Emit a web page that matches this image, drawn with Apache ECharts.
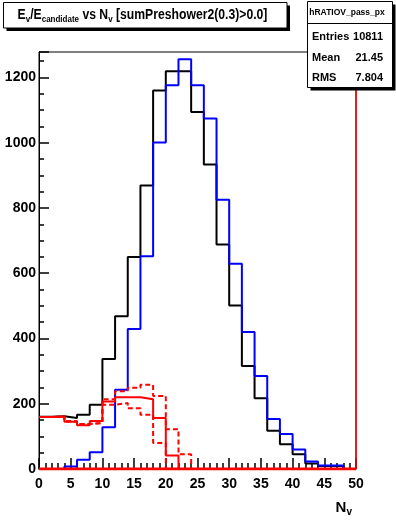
<!DOCTYPE html>
<html>
<head>
<meta charset="utf-8">
<script src="https://cdn.jsdelivr.net/npm/echarts@6/dist/echarts.min.js"></script>
<style>
html,body{margin:0;padding:0;background:#fff;}
#c{width:396px;height:522px;}
</style>
</head>
<body>
<div id="c"></div>
<script>
// ---- data (bins of width 2 from 0 to 50) ----
const xMin = 0, xMax = 50, binWidth = 2;
const xTicks = [0, 5, 10, 15, 20, 25, 30, 35, 40, 45, 50];
const yTicks = [0, 200, 400, 600, 800, 1000, 1200];
const blackHist = [160, 162, 156, 166, 197, 337, 468, 650, 869, 1160, 1219, 1219, 1094, 933, 688, 501, 316, 217, 117, 76, 45, 17, 9, 9, 0];
const blueHist  = [0, 0, 8, 28, 51, 128, 243, 429, 652, 1001, 1176, 1256, 1176, 1074, 825, 629, 420, 285, 153, 107, 60, 23, 11, 11, 0];
const redSolid  = [159, 161, 145, 134, 147, 207, 220, 220, 214, 156, 41, 0, 0, 0, 0, 0, 0, 0, 0, 0, 0, 0, 0, 0, 0];
const redDashA  = [159, 161, 146, 138, 141, 214, 238, 249, 258, 224, 122, 45, 0, 0, 0, 0, 0, 0, 0, 0, 0, 0, 0, 0, 0];
const redDashB  = [159, 161, 146, 138, 141, 197, 202, 186, 166, 80, 0, 0, 0, 0, 0, 0, 0, 0, 0, 0, 0, 0, 0, 0, 0];
const redZero   = [0, 0, 0, 0, 0, 0, 0, 0, 0, 0, 0, 0, 0, 0, 0, 0, 0, 0, 0, 0, 0, 0, 0, 0, 0];
const statsName = 'hRATIOV_pass_px';
const statsRows = [['Entries', '10811'], ['Mean', '21.45'], ['RMS', '7.804']];
const yMax = 1278;

function steps(vals) {
  const d = vals.map((v, i) => [xMin + i * binWidth, v]);
  d.push([xMin + vals.length * binWidth, vals[vals.length - 1]]);
  return d;
}
function hist(name, vals, color, type, z) {
  return {
    name: name, type: 'line', step: 'end', data: steps(vals), symbol: 'none',
    lineStyle: { color: color, width: 2, type: type }, z: z, animation: false, silent: true
  };
}

const F = 'Liberation Sans, Arial, Helvetica, sans-serif';
const chart = echarts.init(document.getElementById('c'), null, { renderer: 'canvas' });
const redZeroSeries = hist('redZero', redZero, '#ff0000', 'solid', 6);
redZeroSeries.lineStyle.width = 3;
redZeroSeries.markLine = {
  silent: true, symbol: 'none', animation: false, label: { show: false },
  lineStyle: { color: '#ff0000', width: 1.5, type: 'solid' },
  data: [{ xAxis: xMax }]
};
const option = {
  animation: false,
  backgroundColor: '#fff',
  grid: { left: 39, right: 40, top: 52, bottom: 53, show: true, borderColor: '#000', borderWidth: 1, backgroundColor: 'transparent' },
  xAxis: {
    type: 'value', min: xMin, max: xMax, interval: 5,
    axisLine: { show: true, lineStyle: { color: '#000', width: 1 } },
    axisTick: { show: true, inside: true, length: 11, lineStyle: { color: '#000', width: 1.5 } },
    minorTick: { show: true, splitNumber: 5, length: 6, lineStyle: { color: '#000', width: 1.5 } },
    splitLine: { show: false },
    axisLabel: { color: '#000', fontFamily: F, fontWeight: 'bold', fontSize: 14, margin: 8,
      formatter: v => (xTicks.indexOf(v) >= 0 ? String(v) : '') },
    name: '{n|N}{s|v}', nameLocation: 'end', nameGap: 0,
    nameTextStyle: {
      align: 'right', verticalAlign: 'top', padding: [30, 4, 0, 0],
      rich: {
        n: { fontFamily: F, fontWeight: 'bold', fontSize: 15, color: '#000', lineHeight: 18 },
        s: { fontFamily: F, fontWeight: 'bold', fontSize: 10, color: '#000', lineHeight: 8, verticalAlign: 'bottom' }
      }
    }
  },
  yAxis: {
    type: 'value', min: 0, max: yMax, interval: 200,
    axisLine: { show: true, lineStyle: { color: '#000', width: 1 } },
    axisTick: { show: true, inside: true, length: 10, lineStyle: { color: '#000', width: 1.5 } },
    minorTick: { show: true, splitNumber: 4, length: 5, lineStyle: { color: '#000', width: 1.5 } },
    splitLine: { show: false },
    axisLabel: { color: '#000', fontFamily: F, fontWeight: 'bold', fontSize: 14, margin: 3,
      formatter: v => (yTicks.indexOf(v) >= 0 ? String(v) : '') }
  },
  series: [
    hist('black', blackHist, '#000', 'solid', 2),
    hist('blue', blueHist, '#0000ff', 'solid', 3),
    hist('redSolid', redSolid, '#ff0000', 'solid', 4),
    hist('redDashA', redDashA, '#ff0000', [5, 3], 5),
    hist('redDashB', redDashB, '#ff0000', [5, 3], 5),
    redZeroSeries
  ],
  graphic: [
    // title box with shadow
    { type: 'rect', shape: { x: 6.5, y: 5.5, width: 283.5, height: 25.5 }, style: { fill: '#000' }, z: 10 },
    { type: 'rect', shape: { x: 3.5, y: 2.5, width: 283.5, height: 25.5 }, style: { fill: '#fff', stroke: '#000', lineWidth: 1 }, z: 11 },
    { type: 'text', x: 142.5, y: 15, scaleY: 1.15, z: 12, style: {
        text: '{m|E}{s|v}{m|/E}{s|candidate}{m| vs N}{s|v}{m| [sumPreshower2(0.3)>0.0]}',
        align: 'center', verticalAlign: 'middle',
        rich: {
          m: { fontFamily: F, fontWeight: 'bold', fontSize: 12.2, fill: '#000', lineHeight: 16 },
          s: { fontFamily: F, fontWeight: 'bold', fontSize: 8, fill: '#000', lineHeight: 7, verticalAlign: 'bottom' }
        } } },
    // stats box
    { type: 'rect', shape: { x: 310.5, y: 4.5, width: 85, height: 86 }, style: { fill: '#000' }, z: 10 },
    { type: 'rect', shape: { x: 307.5, y: 1.5, width: 85, height: 86 }, style: { fill: '#fff', stroke: '#000', lineWidth: 1 }, z: 11 },
    { type: 'line', shape: { x1: 307.5, y1: 23.5, x2: 392.5, y2: 23.5 }, style: { stroke: '#000', lineWidth: 1 }, z: 12 },
    { type: 'text', x: 347, y: 13, z: 12, style: { text: statsName, align: 'center', verticalAlign: 'middle',
        font: 'bold 8.5px ' + F, fill: '#000' } }
  ].concat(statsRows.flatMap((r, i) => [
    { type: 'text', x: 312, y: 37 + i * 20.5, z: 12, style: { text: r[0], align: 'left', verticalAlign: 'middle', font: 'bold 11px ' + F, fill: '#000' } },
    { type: 'text', x: 383, y: 37 + i * 20.5, z: 12, style: { text: r[1], align: 'right', verticalAlign: 'middle', font: 'bold 11px ' + F, fill: '#000' } }
  ]))
};
chart.setOption(option);
</script>
</body>
</html>
